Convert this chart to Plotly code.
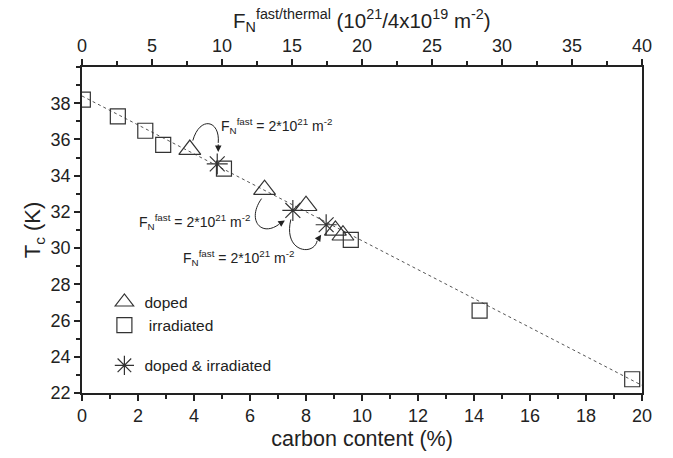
import plotly.graph_objects as go

# ---------------- data ----------------
carbon_irr = [0.03, 1.28, 2.26, 2.9, 5.07, 9.6, 14.2, 19.65]
tc_irr = [38.2, 37.27, 36.48, 35.7, 34.39, 30.45, 26.55, 22.76]

carbon_doped = [3.85, 6.52, 8.0, 9.05, 9.32]
tc_doped = [35.44, 33.23, 32.34, 30.98, 30.71]

carbon_both = [4.83, 7.53, 8.72]
tc_both = [34.65, 32.08, 31.29]

fit_x = [0, 20]
fit_y = [38.4, 22.42]

x_ticks = list(range(0, 21, 2))
top_ticks = list(range(0, 41, 5))
y_ticks = list(range(22, 39, 2))

ann_text = "F<sub>N</sub><sup>fast</sup> = 2*10<sup>21</sup> m<sup>-2</sup>"
ann_pos_x = [4.9, 1.98, 3.55]
ann_pos_y = [36.75, 31.45, 29.45]

# ---------------- layout geometry ----------------
W, H = 673, 458
ML, MR, MT, MB = 82, 31, 67, 65
PW, PH = W - ML - MR, H - MT - MB
XR = [0, 20]
YR = [22, 40]
PXX = PW / (XR[1] - XR[0])
PXY = PH / (YR[1] - YR[0])

INK = "#222222"
MK = "#333333"
FONT = "Arial, Liberation Sans, sans-serif"


def off(pt, dx, dy):
    return (pt[0] + dx / PXX, pt[1] - dy / PXY)


fig = go.Figure()

fig.add_trace(go.Scatter(x=fit_x, y=fit_y, mode="lines",
                         line=dict(color="#555555", width=1, dash="dot"),
                         showlegend=False, hoverinfo="skip"))

fig.add_trace(go.Scatter(x=carbon_doped, y=tc_doped, mode="markers", name="doped",
                         legendgroup="a",
                         marker=dict(symbol="triangle-up-open", size=19,
                                     color=MK, line=dict(width=1.2, color=MK))))
fig.add_trace(go.Scatter(x=carbon_irr, y=tc_irr, mode="markers", name=" irradiated",
                         legendgroup="a",
                         marker=dict(symbol="square-open", size=15,
                                     color=MK, line=dict(width=1.2, color=MK))))
fig.add_trace(go.Scatter(x=carbon_both, y=tc_both, mode="markers",
                         name="doped &amp; irradiated", legendgroup="b",
                         marker=dict(symbol="asterisk-open", size=17.5,
                                     color=MK, line=dict(width=1.2, color=MK))))

# invisible trace to activate top axis
fig.add_trace(go.Scatter(x=[top_ticks[0], top_ticks[-1]], y=[YR[0], YR[0]], xaxis="x2",
                         mode="markers", marker=dict(opacity=0), showlegend=False,
                         hoverinfo="skip"))

# ---------------- curved arrows ----------------
T1 = (carbon_doped[0], tc_doped[0])
T2 = (carbon_doped[1], tc_doped[1])
A1 = (carbon_both[0], tc_both[0])
A2 = (carbon_both[1], tc_both[1])
A3 = (carbon_both[2], tc_both[2])

arrows = [
    # start, c1, c2, end, tip
    (off(T1, 3, -9), off(T1, 10, -34), off(A1, 3, -44), off(A1, 1, -21), off(A1, 1, -12)),
    (off(T2, -3, 9), off(T2, -18, 30), off(A2, -32, 27), off(A2, -14, 14), off(A2, -8, 10)),
    (off(A2, -2, 9), off(A2, -10, 42), off(A2, 21, 46), off(A3, -9, 16), off(A3, -5, 10)),
]

shapes = []
annotations = []
for s, c1, c2, e, tip in arrows:
    shapes.append(dict(type="path", xref="x", yref="y",
                       path=f"M {s[0]},{s[1]} C {c1[0]},{c1[1]} {c2[0]},{c2[1]} {e[0]},{e[1]}",
                       line=dict(color=INK, width=1)))
    annotations.append(dict(x=tip[0], y=tip[1], ax=e[0], ay=e[1], xref="x", yref="y",
                            axref="x", ayref="y", text="", showarrow=True,
                            arrowhead=2, arrowsize=1.3, arrowwidth=1, arrowcolor=INK,
                            standoff=0, startstandoff=0))

for ax_, ay_ in zip(ann_pos_x, ann_pos_y):
    annotations.append(dict(x=ax_, y=ay_, xref="x", yref="y", text=ann_text,
                            showarrow=False, xanchor="left", yanchor="middle",
                            font=dict(family=FONT, size=14, color=INK)))

# top axis title
annotations.append(dict(x=0.5, y=1.0, xref="paper", yref="paper",
                        yshift=30,
                        text="F<sub>N</sub><sup>fast/thermal</sup> (10<sup>21</sup>/4x10<sup>19</sup> m<sup>-2</sup>)",
                        showarrow=False, xanchor="center", yanchor="bottom",
                        font=dict(family=FONT, size=20.5, color=INK)))

fig.update_layout(
    width=W, height=H,
    margin=dict(l=ML, r=MR, t=MT, b=MB),
    paper_bgcolor="white", plot_bgcolor="white",
    font=dict(family=FONT, size=18, color=INK),
    shapes=shapes, annotations=annotations,
    xaxis=dict(range=XR, tickvals=x_ticks, ticks="outside", ticklen=6, tickwidth=1.5,
               tickcolor=INK, showline=True, linecolor=INK, linewidth=1.5,
               showgrid=False, zeroline=False, automargin=False,
               ticklabeloverflow="allow",
               minor=dict(dtick=1, ticks="outside", ticklen=4, tickcolor=INK, tickwidth=1.5),
               title=dict(text="carbon content (%)", font=dict(size=21.5), standoff=6),
               tickfont=dict(size=18)),
    xaxis2=dict(range=[0, 40], tickvals=top_ticks, overlaying="x", side="top", anchor="y",
                ticks="outside", ticklen=6, tickwidth=1.5, tickcolor=INK,
                showline=True, linecolor=INK, linewidth=1.5, showgrid=False, zeroline=False,
                automargin=False, ticklabeloverflow="allow",
                minor=dict(dtick=2.5, ticks="outside", ticklen=4, tickcolor=INK, tickwidth=1.5),
                tickfont=dict(size=18)),
    yaxis=dict(range=YR, tickvals=y_ticks, ticks="outside", ticklen=6, tickwidth=1.5,
               tickcolor=INK, showline=True, linecolor=INK, linewidth=1.5, mirror=True,
               showgrid=False, zeroline=False, automargin=False,
               minor=dict(dtick=1, ticks="outside", ticklen=4, tickcolor=INK, tickwidth=1.5),
               title=dict(text="T<sub>c</sub> (K)", font=dict(size=22), standoff=4),
               tickfont=dict(size=18)),
    legend=dict(x=0.04, y=0.33, xanchor="left", yanchor="top",
                bgcolor="rgba(0,0,0,0)", font=dict(family=FONT, size=15.5, color=INK),
                traceorder="grouped", tracegroupgap=17, itemsizing="trace"),
)

fig.write_html("out.html")
